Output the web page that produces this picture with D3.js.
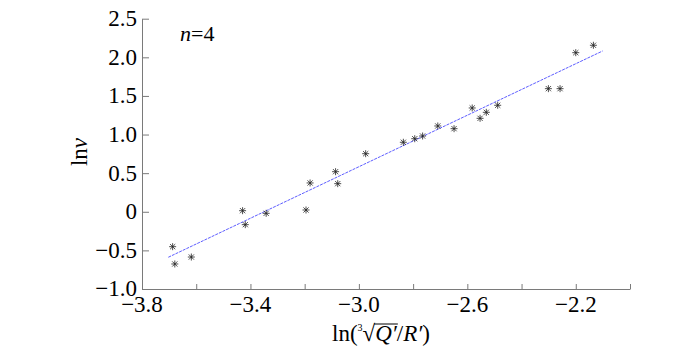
<!DOCTYPE html>
<html><head><meta charset="utf-8">
<script src="https://cdn.jsdelivr.net/npm/d3@7"></script>
<style>
html,body{margin:0;padding:0;background:#fff;}
svg text{font-family:'Liberation Serif','Times New Roman',Times,'DejaVu Serif',serif !important;fill:#000;}
</style></head>
<body><svg id="c" width="700" height="355"></svg>
<script>
// data
const xVals = [-3.687,-3.679,-3.618,-3.429,-3.419,-3.342,-3.195,-3.180,-3.078,-3.086,-2.975,-2.836,-2.794,-2.765,-2.709,-2.649,-2.582,-2.553,-2.530,-2.488,-2.301,-2.258,-2.200,-2.135];
const yVals = [-0.452,-0.676,-0.586,0.014,-0.167,-0.020,0.023,0.373,0.364,0.519,0.752,0.900,0.946,0.981,1.111,1.076,1.344,1.210,1.288,1.379,1.594,1.594,2.060,2.156];
const fitX = [-3.703,-2.101];
const fitY = [-0.589,2.082];
const xTicks = [-3.8,-3.6,-3.4,-3.2,-3.0,-2.8,-2.6,-2.4,-2.2,-2.0];
const xLabeled = [-3.8,-3.4,-3.0,-2.6,-2.2];
const yTicks = [-1.0,-0.5,0,0.5,1.0,1.5,2.0,2.5];
const yTickLabels = ["\u22121.0","\u22120.5","0","0.5","1.0","1.5","2.0","2.5"];

const FONT = "'Liberation Serif','Times New Roman',Times,'DejaVu Serif',serif";
const svg = d3.select("#c");
const x = d3.scaleLinear().domain([-3.8,-2.0]).range([142,630]);
const y = d3.scaleLinear().domain([-1.0,2.5]).range([289,18.7]);
const axisColor = "#7a7a7a";
const fs = 23;

// x axis
const gx = svg.append("g").attr("transform",`translate(0,${y(-1.0)})`)
  .call(d3.axisBottom(x).tickValues(xTicks).tickSizeInner(-5).tickSizeOuter(0).tickFormat(""));
gx.select(".domain").attr("stroke",axisColor);
gx.selectAll(".tick line").attr("stroke",axisColor);
svg.append("g").selectAll("text").data(xLabeled).join("text")
  .attr("x",d=>x(d)).attr("y",y(-1.0)+23).attr("text-anchor","middle")
  .attr("font-family",FONT).style("font-size",fs+"px").text(d=>d3.format(".1f")(d).replace("-","\u2212"));

// y axis
const gy = svg.append("g").attr("transform",`translate(${x(-3.8)},0)`)
  .call(d3.axisLeft(y).tickValues(yTicks).tickSizeInner(-7).tickSizeOuter(0).tickFormat(""));
gy.select(".domain").attr("stroke",axisColor);
gy.selectAll(".tick line").attr("stroke",axisColor);
svg.append("g").selectAll("text").data(yTicks).join("text")
  .attr("x",x(-3.8)-5).attr("y",d=>y(d)).attr("dy","0.32em").attr("text-anchor","end")
  .attr("font-family",FONT).style("font-size",fs+"px").text((d,i)=>yTickLabels[i]);

// fit line
svg.append("path").datum(fitX.map((d,i)=>[d,fitY[i]]))
  .attr("d",d3.line().x(d=>x(d[0])).y(d=>y(d[1])))
  .attr("fill","none").attr("stroke","#4b4bff").attr("stroke-width",0.9).attr("stroke-dasharray","3,1");

// markers (asterisk: plus + times)
const r = 3.5, rd = 2.6;
const star = `M${-r},0L${r},0M0,${-r}L0,${r}M${-rd},${-rd}L${rd},${rd}M${-rd},${rd}L${rd},${-rd}`;
svg.append("g").selectAll("path").data(xVals.map((d,i)=>[d,yVals[i]])).join("path")
  .attr("transform",d=>`translate(${x(d[0])},${y(d[1])})`)
  .attr("d",star).attr("fill","none").attr("stroke","#222").attr("stroke-width",0.8);

// n=4
const nt = svg.append("text").attr("x",180).attr("y",41).attr("font-family",FONT).style("font-size","22px");
nt.append("tspan").style("font-style","italic").text("n");
nt.append("tspan").text("=4");

// y label
const yl = svg.append("text").attr("transform","translate(87,152) rotate(-90)")
  .attr("text-anchor","middle").attr("font-family",FONT).style("font-size","23px");
yl.append("tspan").text("ln");
yl.append("tspan").style("font-style","italic").text("v");

// x label
const xl = svg.append("text").attr("x",332).attr("y",341).attr("font-family",FONT).style("font-size","23px");
xl.append("tspan").text("ln(");
xl.append("tspan").attr("dy",-10).style("font-size","10px").text("3");
xl.append("tspan").attr("dy",10).text("\u221A");
xl.append("tspan").style("font-style","italic").text("Q\u2032");
xl.append("tspan").text("/");
xl.append("tspan").style("font-style","italic").text("R\u2032");
xl.append("tspan").text(")");
// overline of the radical
const tnode = xl.node();
const qs = tnode.getStartPositionOfChar(5);
const qe = tnode.getEndPositionOfChar(6);
const bb = tnode.getBBox();
svg.append("line").attr("x1",qs.x-1).attr("x2",qe.x+1).attr("y1",bb.y+3).attr("y2",bb.y+3)
  .attr("stroke","#000").attr("stroke-width",1);
</script></body></html>
